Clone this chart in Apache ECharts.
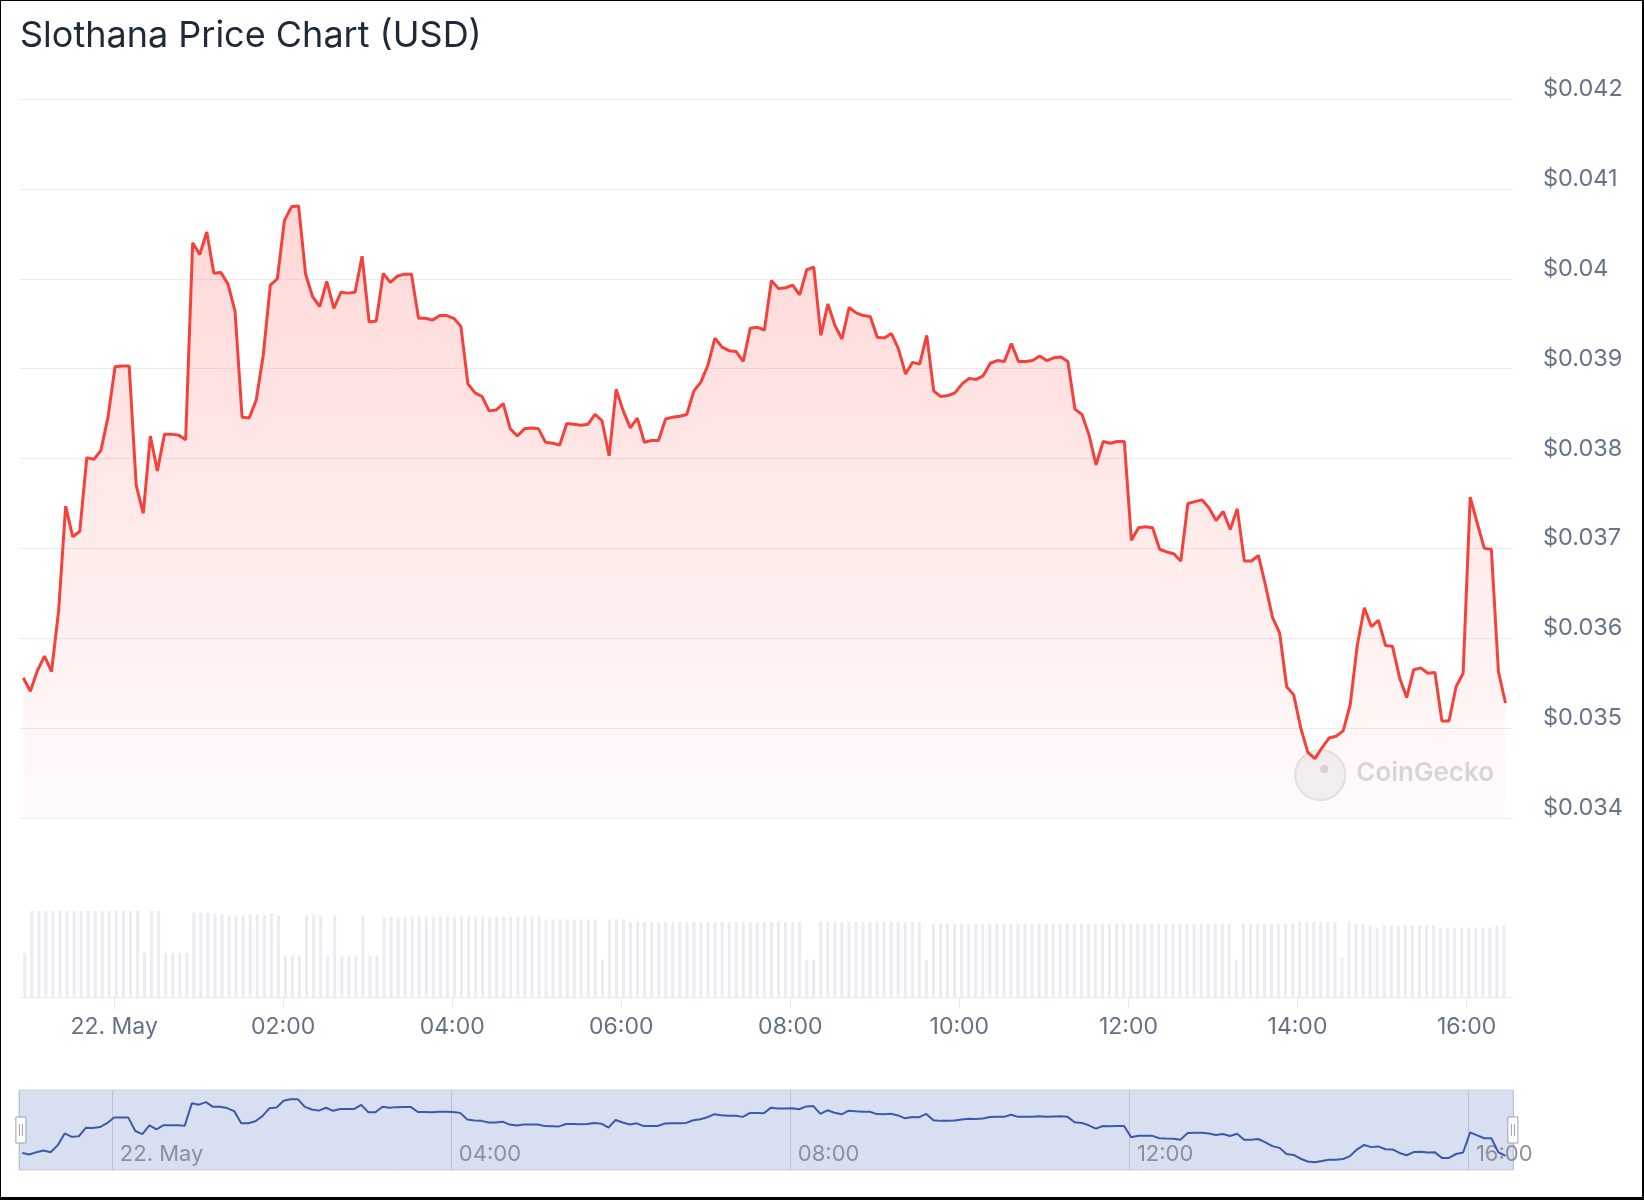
<!DOCTYPE html>
<html>
<head>
<meta charset="utf-8">
<script src="https://cdn.jsdelivr.net/npm/echarts@6/dist/echarts.min.js"></script>
<style>
  html, body { margin: 0; padding: 0; background: #fff; }
  #frame { width: 1644px; height: 1200px; box-sizing: border-box; border-style: solid; border-color: #000; border-width: 1px 2px 3px 1px; overflow: hidden; }
  #chart { width: 1641px; height: 1196px; }
</style>
</head>
<body>
<div id="frame"><div id="chart"></div></div>
<script>
// ---- Data ----
const TITLE = 'Slothana Price Chart (USD)';
const START_UTC = Date.UTC(2024, 4, 21, 22, 56, 36); // first sample
const STEP_MS = 5 * 60 * 1000;                      // 5-minute samples
const MONTHS = ['Jan','Feb','Mar','Apr','May','Jun','Jul','Aug','Sep','Oct','Nov','Dec'];
const Y_TICKS = { min: 0.034, max: 0.042, step: 0.001 };

const PRICE_USD = [
  0.03556,0.03541,0.03564,0.03580,0.03563,0.03630,0.03747,0.03713,0.03719,0.03801,
  0.03799,0.03809,0.03846,0.03902,0.03903,0.03903,0.03770,0.03739,0.03825,0.03786,
  0.03827,0.03827,0.03826,0.03821,0.04040,0.04027,0.04052,0.04006,0.04007,0.03994,
  0.03964,0.03846,0.03845,0.03865,0.03915,0.03993,0.04000,0.04065,0.04080,0.04081,
  0.04005,0.03980,0.03969,0.03997,0.03967,0.03985,0.03984,0.03985,0.04025,0.03952,
  0.03953,0.04006,0.03996,0.04003,0.04005,0.04005,0.03956,0.03956,0.03954,0.03959,
  0.03959,0.03956,0.03947,0.03883,0.03873,0.03869,0.03853,0.03854,0.03861,0.03833,
  0.03825,0.03833,0.03834,0.03833,0.03818,0.03817,0.03815,0.03839,0.03838,0.03837,
  0.03838,0.03849,0.03842,0.03803,0.03877,0.03853,0.03834,0.03845,0.03818,0.03820,
  0.03820,0.03844,0.03846,0.03847,0.03849,0.03875,0.03885,0.03904,0.03934,0.03924,
  0.03920,0.03919,0.03908,0.03945,0.03946,0.03943,0.03998,0.03989,0.03990,0.03993,
  0.03982,0.04010,0.04013,0.03937,0.03972,0.03948,0.03933,0.03968,0.03962,0.03959,
  0.03958,0.03935,0.03934,0.03939,0.03922,0.03894,0.03907,0.03905,0.03937,0.03875,
  0.03869,0.03870,0.03873,0.03883,0.03889,0.03888,0.03892,0.03906,0.03909,0.03908,
  0.03928,0.03908,0.03908,0.03909,0.03914,0.03909,0.03912,0.03913,0.03908,0.03855,
  0.03849,0.03826,0.03793,0.03819,0.03817,0.03819,0.03819,0.03709,0.03723,0.03724,
  0.03723,0.03699,0.03696,0.03694,0.03686,0.03750,0.03752,0.03754,0.03745,0.03731,
  0.03741,0.03721,0.03744,0.03686,0.03686,0.03692,0.03659,0.03623,0.03606,0.03546,
  0.03537,0.03500,0.03473,0.03466,0.03478,0.03489,0.03491,0.03497,0.03526,0.03592,
  0.03634,0.03613,0.03620,0.03592,0.03591,0.03556,0.03534,0.03565,0.03567,0.03561,
  0.03562,0.03508,0.03508,0.03546,0.03561,0.03757,0.03728,0.03700,0.03699,0.03563,
  0.03528
];

// 5-minute trading volume (relative units)
const VOLUME = [
  132,257,257,257,257,257,257,257,257,257,257,257,257,257,257,257,257,132,257,257,
  132,132,132,132,252,252,252,250,247,244,244,244,247,247,244,250,244,124,124,124,
  244,244,244,124,244,124,124,124,244,124,124,240,240,240,240,240,240,240,240,240,
  240,240,240,240,240,240,240,240,240,240,240,240,240,240,232,232,232,232,232,232,
  232,232,112,232,232,232,224,224,224,224,224,224,224,224,224,224,224,224,224,224,
  224,224,224,224,224,224,224,225,225,225,225,112,112,225,225,225,225,225,225,225,
  225,225,225,225,225,225,225,225,112,219,219,219,219,219,219,219,219,219,219,219,
  219,219,219,219,219,219,219,219,219,219,219,219,219,219,219,219,219,219,219,219,
  219,219,219,219,219,219,219,219,219,219,219,219,112,219,219,219,219,219,219,219,
  219,225,225,225,225,225,225,117,225,219,219,212,207,214,214,214,214,214,214,214,
  214,207,207,207,207,207,207,207,207,214,214
];

// ---- Build series pairs ----
const TIMES = PRICE_USD.map((_, i) => START_UTC + i * STEP_MS);
const pricePairs = TIMES.map((t, i) => [t, PRICE_USD[i]]);
const volumePairs = TIMES.map((t, i) => [t, VOLUME[i]]);
const X_MIN = TIMES[0] - 140 * 1000;
const X_MAX = TIMES[TIMES.length - 1] + 320 * 1000;
const HOUR = 3600 * 1000;

const FONT = 'Inter, "Noto Sans", sans-serif';
function pad(n) { return (n < 10 ? '0' : '') + n; }
function timeLabel(step) {
  return function (v) {
    const d = new Date(v);
    const h = d.getUTCHours(), m = d.getUTCMinutes();
    if (m !== 0 || h % step !== 0) return '';
    if (h === 0) return d.getUTCDate() + '. ' + MONTHS[d.getUTCMonth()];
    return pad(h) + ':00';
  };
}

const chart = echarts.init(document.getElementById('chart'), null, { renderer: 'canvas' });
chart.setOption({
  useUTC: true,
  animation: false,
  backgroundColor: '#ffffff',
  title: {
    text: TITLE, left: 14, top: 12,
    textStyle: { fontFamily: FONT, fontSize: 36, fontWeight: 'normal', color: '#1f2937' }
  },
  grid: [
    { left: 19, right: 129, top: 98, height: 719 },
    { left: 19, right: 129, top: 904, height: 92 },
    { left: 18, right: 129, top: 1089, height: 80, show: true,
      backgroundColor: '#d8dff0', borderColor: '#c7cfe1', borderWidth: 1 }
  ],
  xAxis: [
    { gridIndex: 0, type: 'time', min: X_MIN, max: X_MAX, show: false },
    { gridIndex: 1, type: 'time', min: X_MIN, max: X_MAX,
      splitNumber: 7, minInterval: 2.6 * HOUR, maxInterval: 2.6 * HOUR,
      axisLine: { lineStyle: { color: '#e6e9ef' } },
      axisTick: { show: true, length: 12, lineStyle: { color: '#e6e9ef' } },
      splitLine: { show: false },
      axisLabel: { formatter: timeLabel(2), color: '#667085', fontFamily: FONT, fontSize: 23, margin: 19,
                   showMinLabel: false, showMaxLabel: false }
    },
    { gridIndex: 2, type: 'time', min: X_MIN, max: X_MAX,
      splitNumber: 4, minInterval: 4.5 * HOUR, maxInterval: 4.5 * HOUR,
      axisLine: { show: false }, axisTick: { show: false },
      splitLine: { show: true, lineStyle: { color: '#b8c2d8', width: 1 } },
      axisLabel: { inside: true, formatter: timeLabel(4), color: '#8c9099', fontFamily: FONT, fontSize: 22,
                   align: 'left', padding: [0, 0, 0, 8], margin: 5, showMinLabel: false, showMaxLabel: false }
    }
  ],
  yAxis: [
    { gridIndex: 0, type: 'value', position: 'right',
      min: Y_TICKS.min, max: Y_TICKS.max, interval: Y_TICKS.step,
      axisLine: { show: false }, axisTick: { show: false },
      splitLine: { lineStyle: { color: '#e9ebef', width: 1 } },
      axisLabel: { formatter: v => '$' + parseFloat(v.toFixed(3)), color: '#667389', fontFamily: FONT,
                   fontSize: 23.5, lineHeight: 20, margin: 30, verticalAlign: 'bottom' }
    },
    { gridIndex: 1, type: 'value', min: 0, max: 275, show: false },
    { gridIndex: 2, type: 'value', min: 0.0339, max: 0.0417, show: false }
  ],
  dataZoom: [{
    type: 'slider', xAxisIndex: [0, 1], start: 0, end: 100, filterMode: 'none',
    left: 18, right: 129, top: 1089, height: 80,
    showDataShadow: false, showDetail: false, brushSelect: false, moveHandleSize: 0,
    backgroundColor: 'rgba(0,0,0,0)', borderColor: 'rgba(0,0,0,0)', fillerColor: 'rgba(0,0,0,0)',
    handleIcon: 'path://M0,0 L10,0 L10,26 L0,26 Z M3.5,7 L3.5,19 M6.5,7 L6.5,19',
    handleSize: 26,
    handleStyle: { color: '#ffffff', borderColor: '#9aa1ad', borderWidth: 1 }
  }],
  graphic: [{
    type: 'group', right: 148, top: 748, silent: true, z: 1,
    children: [
      { type: 'circle', shape: { cx: 26, cy: 26, r: 25 }, style: { fill: '#f3f3f3', stroke: '#e4e4e4', lineWidth: 2 } },
      { type: 'circle', shape: { cx: 30, cy: 20, r: 4 }, style: { fill: '#d6d6d6' } },
      { type: 'text', left: 62, top: 11, style: { text: 'CoinGecko', fontFamily: FONT, fontSize: 26, fontWeight: 600, fill: '#d9d9d9' } }
    ]
  }],
  series: [
    { name: 'Price', type: 'line', xAxisIndex: 0, yAxisIndex: 0, data: pricePairs,
      showSymbol: false, symbol: 'none', z: 3,
      lineStyle: { color: '#f5413b', width: 3 },
      areaStyle: { origin: 'start',
        color: new echarts.graphic.LinearGradient(0, 0, 0, 1, [
          { offset: 0, color: 'rgba(255,72,66,0.30)' },
          { offset: 1, color: 'rgba(255,72,66,0.03)' }
        ]) }
    },
    { name: 'Volume', type: 'bar', xAxisIndex: 1, yAxisIndex: 1, data: volumePairs,
      barWidth: 3, itemStyle: { color: '#e9ecf2' } },
    { name: 'Navigator', type: 'line', xAxisIndex: 2, yAxisIndex: 2, data: pricePairs,
      showSymbol: false, symbol: 'none', z: 3,
      lineStyle: { color: '#3a5ba6', width: 2 } }
  ]
});
</script>
</body>
</html>
